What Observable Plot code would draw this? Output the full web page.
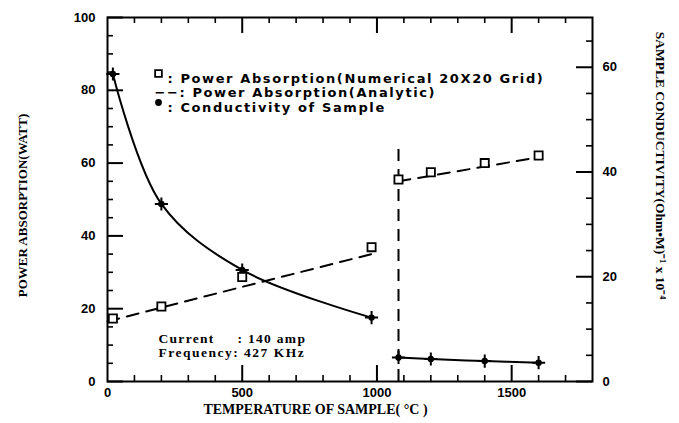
<!DOCTYPE html>
<html><head><meta charset="utf-8">
<script src="https://cdn.jsdelivr.net/npm/d3@7"></script>
<script src="https://cdn.jsdelivr.net/npm/@observablehq/plot@0.6"></script>
<style>body{margin:0;background:#fff}</style>
</head><body><div id="chart"></div>
<script>
// ---- data ----
const temperature    = [20, 200, 500, 980, 1080, 1200, 1400, 1600];
const phase          = ["low", "low", "low", "low", "high", "high", "high", "high"];
const powerNumerical = [17.3, 20.6, 28.7, 36.9, 55.5, 57.5, 60.0, 62.1];   // watt
const conductivity   = [58.7, 33.9, 21.3, 12.2, 4.6, 4.3, 3.9, 3.6];       // (Ohm·m)^-1 x 10^-4
const analyticLowT   = [0, 500, 980];
const analyticLowP   = [16.5, 26.0, 35.0];
const analyticHighT  = [1080, 1600];
const analyticHighP  = [55.0, 61.6];
const jumpT          = [1080];
const jumpTop        = [65.5];
const xTickLabels    = [0, 500, 1000, 1500];
const xMinorTicks    = [100,200,300,400,600,700,800,900,1100,1200,1300,1400,1600,1700];
const xMajorTicks    = [500, 1000, 1500];
const yTickLabels    = [0, 20, 40, 60, 80, 100];
const yMinorTicks    = [5,10,15,25,30,35,45,50,55,65,70,75,85,90,95];
const rightTickLabels = [0, 20, 40, 60];
const rightMinorTicks = [5,10,15,25,30,35,45,50,55,65];
const rightMax = 69.5;

const rows = temperature.map((t, i) => ({t, phase: phase[i], p: powerNumerical[i], c: conductivity[i]}));
const lowRows = analyticLowT.map((t, i) => ({t, p: analyticLowP[i]}));
const highRows = analyticHighT.map((t, i) => ({t, p: analyticHighP[i]}));
const jumpRows = jumpT.map((t, i) => ({t, top: jumpTop[i]}));

const W = 679, H = 423, mL = 107, mR = 87, mT = 17, mB = 42;
const pw = W - mL - mR, ph = H - mT - mB;
const k = 100 / rightMax;
const MAJ = 16, MIN = 6;
const sans = "Liberation Sans, Arial, sans-serif";
const serif = "Liberation Serif, Times New Roman, serif";
const legendFont = "DejaVu Sans, sans-serif";
const dash = "12,8";

const legend1 = ": Power Absorption(Numerical 20X20 Grid)";
const legend2 = "−−: Power Absorption(Analytic)";
const legend3 = ": Conductivity of Sample";

const chart = Plot.plot({
  width: W, height: H,
  marginLeft: mL, marginRight: mR, marginTop: mT, marginBottom: mB,
  x: {domain: [0, 1800]},
  y: {domain: [0, 100]},
  style: {background: "white", color: "black"},
  marks: [
    // inward ticks
    Plot.ruleY(yTickLabels, {y: d => d, insetRight: pw - MAJ, strokeWidth: 2}),
    Plot.ruleY(yMinorTicks, {y: d => d, insetRight: pw - MIN, strokeWidth: 1.6}),
    Plot.ruleY(rightTickLabels, {y: d => d * k, insetLeft: pw - MAJ, strokeWidth: 2}),
    Plot.ruleY(rightMinorTicks, {y: d => d * k, insetLeft: pw - MIN, strokeWidth: 1.6}),
    Plot.ruleX(xMajorTicks, {x: d => d, insetTop: ph - MAJ, strokeWidth: 2}),
    Plot.ruleX(xMinorTicks, {x: d => d, insetTop: ph - MIN, strokeWidth: 1.6}),
    Plot.ruleX(xMajorTicks, {x: d => d, insetBottom: ph - MAJ, strokeWidth: 2}),
    Plot.ruleX(xMinorTicks, {x: d => d, insetBottom: ph - MIN, strokeWidth: 1.6}),
    Plot.frame({stroke: "black", strokeWidth: 2}),
    // tick labels
    Plot.axisX(xTickLabels, {tickSize: 0, tickPadding: 6, tickFormat: d => String(d), label: null,
      fontSize: 13, fontWeight: "bold", fontFamily: sans}),
    Plot.axisY(yTickLabels, {tickSize: 0, tickPadding: 12, tickFormat: d => String(d), label: null,
      fontSize: 13, fontWeight: "bold", fontFamily: sans}),
    Plot.axisY(rightTickLabels.map(d => d * k), {anchor: "right", tickSize: 0, tickPadding: 10,
      tickFormat: d => String(Math.round(d / k)), label: null,
      fontSize: 13, fontWeight: "bold", fontFamily: sans}),
    // analytic (dashed)
    Plot.line(lowRows, {x: "t", y: "p", stroke: "black", strokeWidth: 2, strokeDasharray: dash}),
    Plot.line(highRows, {x: "t", y: "p", stroke: "black", strokeWidth: 2, strokeDasharray: dash}),
    Plot.ruleX(jumpRows, {x: "t", y1: 0, y2: "top", stroke: "black", strokeWidth: 2, strokeDasharray: dash}),
    // conductivity (right axis)
    Plot.line(rows, {x: "t", y: d => d.c * k, z: "phase", curve: "catmull-rom", stroke: "black", strokeWidth: 2}),
    Plot.dot(rows, {x: "t", y: d => d.c * k, r: 3.2, fill: "black"}),
    Plot.dot(rows, {x: "t", y: d => d.c * k, symbol: "plus", r: 4.3, stroke: "black", strokeWidth: 2}),
    // numerical power (squares)
    Plot.dot(rows, {x: "t", y: "p", symbol: "square", r: 4.6, fill: "white", stroke: "black", strokeWidth: 1.8}),
    // legend
    Plot.dot([0], {frameAnchor: "top-left", dx: 51, dy: 56, symbol: "square", r: 3.8, fill: "white", stroke: "black", strokeWidth: 1.8}),
    Plot.text([legend1], {frameAnchor: "top-left", dx: 60, dy: 56, textAnchor: "start",
      fontSize: 13, fontWeight: "bold", fontFamily: legendFont}),
    Plot.text([legend2], {frameAnchor: "top-left", dx: 47, dy: 70.5, textAnchor: "start",
      fontSize: 13, fontWeight: "bold", fontFamily: legendFont}),
    Plot.dot([0], {frameAnchor: "top-left", dx: 51, dy: 85, r: 3.4, fill: "black"}),
    Plot.text([legend3], {frameAnchor: "top-left", dx: 60, dy: 85, textAnchor: "start",
      fontSize: 13, fontWeight: "bold", fontFamily: legendFont}),
    // operating conditions
    Plot.text(["Current"], {frameAnchor: "bottom-left", dx: 51, dy: -39, textAnchor: "start",
      fontSize: 13.5, fontWeight: "bold", fontFamily: serif}),
    Plot.text([": 140 amp"], {frameAnchor: "bottom-left", dx: 130, dy: -39, textAnchor: "start",
      fontSize: 13.5, fontWeight: "bold", fontFamily: serif}),
    Plot.text(["Frequency: 427 KHz"], {frameAnchor: "bottom-left", dx: 51, dy: -25, textAnchor: "start",
      fontSize: 13.5, fontWeight: "bold", fontFamily: serif}),
    // axis titles
    Plot.text(["TEMPERATURE OF SAMPLE( °C )"], {frameAnchor: "bottom-left", dx: 208, dy: 32, textAnchor: "middle",
      fontSize: 14, fontWeight: "bold", fontFamily: serif}),
    Plot.text(["POWER ABSORPTION(WATT)"], {frameAnchor: "left", dx: -85, dy: 6, rotate: -90, textAnchor: "middle",
      fontSize: 13, fontWeight: "bold", fontFamily: serif}),
    Plot.text(["SAMPLE CONDUCTIVITY(Ohm•M)⁻¹ x 10⁻⁴"], {frameAnchor: "right", dx: 68, dy: -34, rotate: 90, textAnchor: "middle",
      fontSize: 13.5, fontWeight: "bold", fontFamily: serif})
  ]
});
// wide plotter-style lettering
const spacing = new Map([[legend1, 1.6], [legend2, 1.6], [legend3, 1.6],
  ["Current", 1.3], [": 140 amp", 1.3], ["Frequency: 427 KHz", 1.5]]);
d3.select(chart).selectAll("text").each(function () {
  const s = spacing.get(this.textContent);
  if (s != null) this.setAttribute("letter-spacing", s);
});
document.getElementById("chart").appendChild(chart);
</script>
</body></html>
